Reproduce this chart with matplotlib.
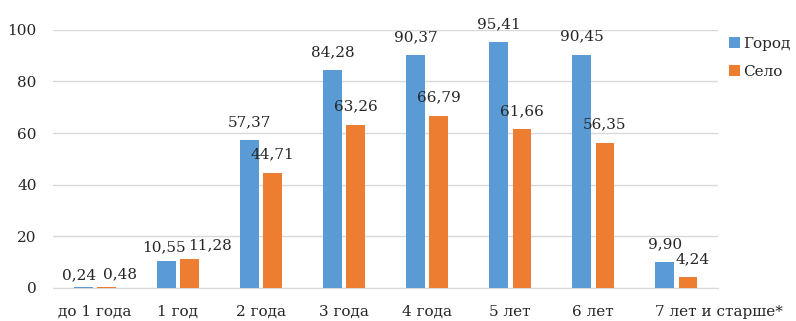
import matplotlib.pyplot as plt
import matplotlib.transforms as mtransforms
import numpy as np

categories = ['до 1 года', '1 год', '2 года', '3 года', '4 года', '5 лет', '6 лет', '7 лет и старше*']
gorod = [0.24, 10.55, 57.37, 84.28, 90.37, 95.41, 90.45, 9.90]
selo = [0.48, 11.28, 44.71, 63.26, 66.79, 61.66, 56.35, 4.24]
series_names = ['Город', 'Село']

plt.rcParams['font.family'] = ['DejaVu Serif']
fs = 11

fig = plt.figure(figsize=(7.96, 3.21), dpi=100)
ax = fig.add_axes([0.067, 0.103, 0.835, 0.804])

x = np.arange(len(categories))
w = 0.225
off = 0.14
ax.bar(x - off, gorod, w, color='#5B9BD5', label=series_names[0], zorder=3)
ax.bar(x + off, selo, w, color='#ED7D31', label=series_names[1], zorder=3)

# label nudges (points) where Excel pushed labels apart
nudge_g = [-3, -2, 0, 0, 0, 0, 0, 0]
nudge_s = [10, 15, 0, 0, 0, 0, 0, 3]
lift_g = [6, 7, 10, 10, 10, 10, 10, 10]
lift_s = [6, 7, 10, 10, 10, 10, 10, 10]
for i, v in enumerate(gorod):
    ax.annotate(f'{v:.2f}'.replace('.', ','), (x[i] - off, v), xytext=(nudge_g[i], lift_g[i]),
                textcoords='offset points', ha='center', va='baseline', fontsize=fs, color='#262626')
for i, v in enumerate(selo):
    ax.annotate(f'{v:.2f}'.replace('.', ','), (x[i] + off, v), xytext=(nudge_s[i], lift_s[i]),
                textcoords='offset points', ha='center', va='baseline', fontsize=fs, color='#262626')

ax.set_xlim(-0.5, len(categories) - 0.5)
ax.set_ylim(0, 100)
ax.set_yticks(range(0, 101, 20))
ax.set_xticks(x)
ax.set_xticklabels(categories)
ax.tick_params(axis='both', length=0, labelsize=fs, colors='#262626')
ax.tick_params(axis='y', pad=12)
ax.tick_params(axis='x', pad=12)
# last category label sits to the right in the original
last = ax.get_xticklabels()[-1]
last.set_transform(last.get_transform() + mtransforms.ScaledTranslation(0.42, 0, fig.dpi_scale_trans))
ax.grid(axis='y', color='#D9D9D9', linewidth=1, zorder=0)
for s in ['top', 'right', 'left']:
    ax.spines[s].set_visible(False)
ax.spines['bottom'].set_color('#D9D9D9')

ax.legend(loc='upper left', bbox_to_anchor=(1.0, 1.015), frameon=False, fontsize=fs,
          handlelength=0.75, handleheight=0.75, handletextpad=0.2, labelspacing=0.95,
          borderaxespad=0.3, labelcolor='#262626')

fig.savefig('out.png', dpi=100)
